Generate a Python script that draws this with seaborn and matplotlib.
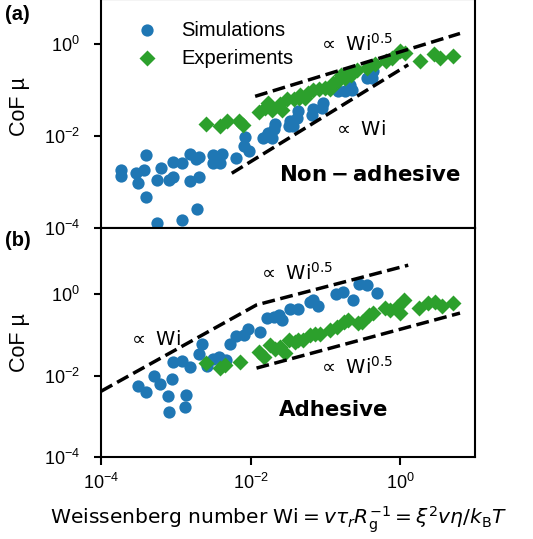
import numpy as np
import pandas as pd
import matplotlib
matplotlib.use("Agg")
import matplotlib.pyplot as plt
import seaborn as sns

# ---------------- data ----------------
# (a) Non-adhesive: simulations
sim_a_wi = [1.85e-4, 1.85e-4, 3.10e-4, 2.96e-4, 3.72e-4, 3.96e-4, 3.96e-4, 5.69e-4,
            5.61e-4, 6.28e-4, 8.18e-4, 9.31e-4, 9.31e-4, 1.21e-3, 1.21e-3, 1.56e-3,
            2.02e-3, 1.86e-3, 1.57e-3, 2.04e-3, 1.92e-3, 3.19e-3, 4.15e-3, 3.19e-3,
            3.90e-3, 6.47e-3, 8.41e-3, 8.28e-3, 9.66e-3, 0.0148, 0.0166, 0.0173,
            0.0191, 0.0212, 0.0206, 0.0336, 0.0326, 0.0372, 0.0431, 0.0413, 0.0689,
            0.0656, 0.0929, 0.0901, 0.149, 0.183, 0.213, 0.225, 0.356, 0.436, 0.416]
sim_a_mu = [1.79e-3, 1.32e-3, 9.4e-4, 1.57e-3, 1.79e-3, 3.79e-3, 4.7e-4, 1.27e-4,
            1.12e-3, 2.01e-3, 1.09e-3, 1.27e-3, 2.76e-3, 2.59e-3, 1.51e-4, 3.98e-3,
            3.51e-3, 3.16e-3, 1.03e-3, 1.26e-3, 2.63e-4, 3.83e-3, 4.02e-3, 2.59e-3,
            2.59e-3, 3.37e-3, 9.66e-3, 5.94e-3, 4.63e-3, 9.06e-3, 9.80e-3, 1.16e-2,
            9.19e-3, 1.85e-2, 1.41e-2, 2.08e-2, 1.62e-2, 1.62e-2, 3.43e-2, 2.46e-2, 3.83e-2,
            2.90e-2, 5.22e-2, 4.06e-2, 9.33e-2, 9.33e-2, 0.130, 0.102, 0.182, 0.254, 0.182]
# (a) Non-adhesive: experiments
exp_a_wi = [2.54e-3, 3.90e-3, 4.83e-3, 7.00e-3, 7.91e-3, 0.0129, 0.0156, 0.0173,
            0.0193, 0.0247, 0.0263, 0.0307, 0.0380, 0.0444, 0.0457, 0.0533, 0.0585,
            0.0682, 0.0820, 0.0988, 0.115, 0.126, 0.147, 0.162, 0.183, 0.200, 0.220,
            0.264, 0.360, 0.460, 0.646, 0.776, 0.993, 1.16, 1.84, 2.83, 3.40, 5.08]
exp_a_mu = [1.85e-2, 1.63e-2, 2.15e-2, 2.15e-2, 1.76e-2, 3.37e-2, 4.12e-2, 5.16e-2,
            3.73e-2, 5.04e-2, 3.73e-2, 6.47e-2, 6.47e-2, 6.80e-2, 7.91e-2, 6.80e-2, 8.74e-2,
            0.102, 0.107, 0.109, 0.107, 0.144, 0.155, 0.215, 0.185, 0.226, 0.215,
            0.276, 0.305, 0.373, 0.419, 0.491, 0.715, 0.631, 0.434, 0.615, 0.491, 0.557]

# (b) Adhesive: simulations
sim_b_wi = [3.08e-4, 3.96e-4, 5.12e-4, 6.24e-4, 8.97e-4, 7.87e-4, 1.35e-3, 8.11e-4,
            1.31e-3, 9.31e-4, 1.22e-3, 1.57e-3, 2.04e-3, 2.26e-3, 2.65e-3, 3.14e-3,
            3.79e-3, 4.69e-3, 5.31e-3, 6.47e-3, 8.28e-3, 9.10e-3, 0.0134, 0.0164,
            0.0206, 0.0240, 0.0261, 0.0336, 0.0424, 0.0622, 0.0689, 0.0804, 0.139,
            0.173, 0.236, 0.281, 0.356, 0.485]
sim_b_mu = [5.56e-3, 3.96e-3, 9.77e-3, 6.33e-3, 8.26e-3, 3.16e-3, 3.40e-3, 1.30e-3,
            1.68e-3, 2.12e-2, 2.32e-2, 1.63e-2, 3.44e-2, 5.88e-2, 1.72e-2, 2.60e-2,
            2.81e-2, 2.45e-2, 6.05e-2, 9.19e-2, 0.1005, 0.135, 0.117, 0.254,
            0.278, 0.306, 0.231, 0.429, 0.429, 0.619, 0.713, 0.514, 1.0,
            1.12, 0.733, 1.76, 1.62, 1.04]
# (b) Adhesive: experiments
exp_b_wi = [2.54e-3, 3.90e-3, 4.61e-3, 7.11e-3, 0.0129, 0.0149, 0.0182, 0.0212,
            0.0247, 0.0288, 0.0326, 0.0393, 0.0431, 0.0507, 0.0622, 0.0726, 0.0859,
            0.115, 0.145, 0.175, 0.202, 0.269, 0.313, 0.383, 0.436, 0.627, 0.731,
            0.897, 0.993, 1.12, 1.78, 2.35, 2.92, 3.59, 5.13]
exp_b_mu = [2.0e-2, 1.53e-2, 1.82e-2, 2.09e-2, 3.79e-2, 2.90e-2, 5.47e-2, 4.36e-2,
            4.89e-2, 3.52e-2, 7.46e-2, 6.48e-2, 7.46e-2, 7.46e-2, 9.89e-2, 0.102, 0.105,
            0.131, 0.158, 0.209, 0.224, 0.191, 0.209, 0.306, 0.336, 0.446, 0.405,
            0.489, 0.342, 0.713, 0.454, 0.592, 0.637, 0.508, 0.592]

# guide (scaling) lines
guide_a_up_wi = [0.0115, 6.3]
guide_a_up_mu = [0.073, 1.70]
guide_a_lo_wi = [5.6e-3, 1.28]
guide_a_lo_mu = [1.55e-3, 0.355]
guide_b_up_wi = [1.0e-4, 0.012, 1.28]
guide_b_up_mu = [4.1e-3, 0.54, 5.1]
guide_b_lo_wi = [0.012, 6.3]
guide_b_lo_mu = [0.0152, 0.34]

xticks = [1e-4, 1e-2, 1e0]
yticks = [1e-4, 1e-2, 1e0]

# ---------------- style ----------------
sns.set_theme(style="ticks")
plt.rcParams["font.family"] = ["Liberation Sans", "DejaVu Sans"]
plt.rcParams["mathtext.fontset"] = "dejavusans"
plt.rcParams["axes.linewidth"] = 1.5
plt.rcParams["xtick.major.width"] = 1.5
plt.rcParams["ytick.major.width"] = 1.5
plt.rcParams["xtick.major.size"] = 6
plt.rcParams["ytick.major.size"] = 5
plt.rcParams["xtick.major.pad"] = 5.5
plt.rcParams["ytick.major.pad"] = 10
for k in ["xtick.color", "ytick.color", "axes.edgecolor", "text.color",
          "axes.labelcolor", "xtick.labelcolor", "ytick.labelcolor"]:
    plt.rcParams[k] = "black"

W, H = 533, 539
fig = plt.figure(figsize=(W / 100, H / 100), dpi=100)
L, R = 101, 475
ax_a = fig.add_axes([L / W, 1 - 228 / H, (R - L) / W, 229 / H])
ax_b = fig.add_axes([L / W, 1 - 457 / H, (R - L) / W, 229 / H])

blue = "#1f77b4"
green = "#2ca02c"
S = 78

def panel(ax, swi, smu, ewi, emu, legend):
    sns.scatterplot(x=swi, y=smu, ax=ax, color=blue, marker="o", s=S,
                    linewidth=0, label="Simulations" if legend else None, zorder=3)
    sns.scatterplot(x=ewi, y=emu, ax=ax, color=green, marker="D", s=S * 0.85,
                    linewidth=0, label="Experiments" if legend else None, zorder=3)
    ax.set_xscale("log")
    ax.set_yscale("log")
    ax.set_xlim(1e-4, 10)
    ax.set_xticks(xticks)
    ax.set_yticks(yticks)
    ax.minorticks_off()
    ax.tick_params(axis="both", labelsize=13, colors="black")
    ax.set_ylabel("CoF µ", fontsize=15.5)

def guide(ax, wi, mu):
    sns.lineplot(x=wi, y=mu, ax=ax, color="black", linestyle="--", linewidth=2.5,
                 sort=False, estimator=None, zorder=4)

panel(ax_a, sim_a_wi, sim_a_mu, exp_a_wi, exp_a_mu, True)
panel(ax_b, sim_b_wi, sim_b_mu, exp_b_wi, exp_b_mu, False)
ax_a.set_ylim(1e-4, 10 ** 0.98)
ax_b.set_ylim(1e-4, 10 ** 1.62)
ax_a.yaxis.set_label_coords(-0.19, 0.53)
ax_b.yaxis.set_label_coords(-0.19, 0.5)

guide(ax_a, guide_a_up_wi, guide_a_up_mu)
guide(ax_a, guide_a_lo_wi, guide_a_lo_mu)
guide(ax_b, guide_b_up_wi, guide_b_up_mu)
guide(ax_b, guide_b_lo_wi, guide_b_lo_mu)

ax_a.tick_params(axis="x", length=0, labelbottom=False)

leg = ax_a.legend(loc="upper left", frameon=False, fontsize=14.5,
                  bbox_to_anchor=(0.02, 0.985), handletextpad=0.7, labelspacing=0.45)

tkw = dict(family="DejaVu Sans", math_fontfamily="dejavusans", fontsize=14,
           ha="center", va="center")
ax_a.text(0.682, 0.803, r"$\propto$ Wi$^{0.5}$", transform=ax_a.transAxes, **tkw)
ax_a.text(0.692, 0.432, r"$\propto$ Wi", transform=ax_a.transAxes, **tkw)
ax_a.text(0.719, 0.231, r"$\mathbf{Non-adhesive}$", transform=ax_a.transAxes,
          family="DejaVu Sans", math_fontfamily="dejavusans", fontsize=15.3,
          ha="center", va="center")
ax_b.text(0.521, 0.803, r"$\propto$ Wi$^{0.5}$", transform=ax_b.transAxes, **tkw)
ax_b.text(0.142, 0.511, r"$\propto$ Wi", transform=ax_b.transAxes, **tkw)
ax_b.text(0.682, 0.393, r"$\propto$ Wi$^{0.5}$", transform=ax_b.transAxes, **tkw)
ax_b.text(0.621, 0.205, "Adhesive", transform=ax_b.transAxes, family="DejaVu Sans",
          fontweight="bold", fontsize=15.3, ha="center", va="center")

ax_b.set_xlabel(r"Weissenberg number $\mathrm{Wi} = v\tau_r R_\mathrm{g}^{-1} = \xi^2 v\eta/k_\mathrm{B}T$",
                family="DejaVu Sans", math_fontfamily="dejavusans", fontsize=14.6)
ax_b.xaxis.set_label_coords(0.476, -0.207)

fig.text(5 / W, 1 - 14 / H, "(a)", fontsize=14.5, fontweight="bold", va="center", ha="left")
fig.text(5 / W, 1 - 241 / H, "(b)", fontsize=14.5, fontweight="bold", va="center", ha="left")

fig.savefig("out.png", dpi=100)
